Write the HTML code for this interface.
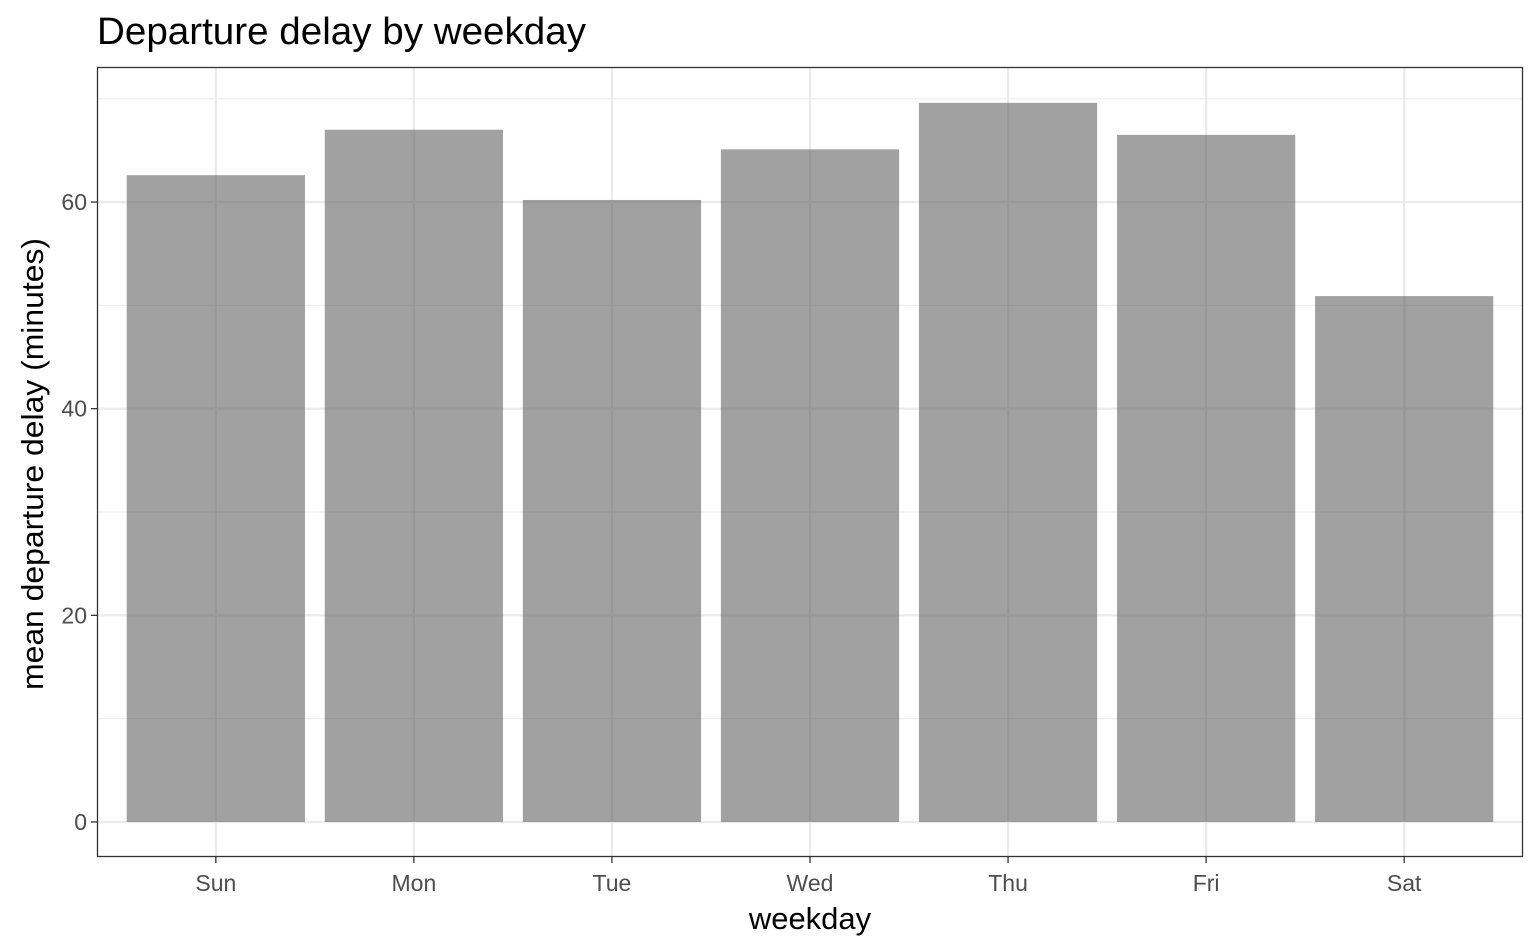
<!DOCTYPE html>
<html><head><meta charset="utf-8"><style>
body{margin:0;background:#fff;}
svg{display:block;font-family:"Liberation Sans",Arial,sans-serif;}
</style></head><body>
<svg id="chart" width="1540" height="951">
<text x="97" y="44" font-size="38" fill="#000" textLength="489" lengthAdjust="spacingAndGlyphs">Departure delay by weekday</text>
<g id="grid"></g><g id="bars"></g><g id="axes"></g>
<rect x="97.5" y="67.5" width="1425" height="789" fill="none" stroke="#333" stroke-width="1.3"/>
<text x="810" y="929" font-size="31" text-anchor="middle" fill="#000">weekday</text>
<text transform="translate(43,464) rotate(-90)" font-size="31" text-anchor="middle" fill="#000" textLength="452" lengthAdjust="spacingAndGlyphs">mean departure delay (minutes)</text>
</svg>
<script>
const categories=["Sun","Mon","Tue","Wed","Thu","Fri","Sat"];
const values=[62.6,67.0,60.2,65.1,69.6,66.5,50.9];
const yTicks=[0,20,40,60];
const yMinor=[10,30,50,70];
const NS="http://www.w3.org/2000/svg";
const L=97,R=1523,T=67,B=857,yMin=-3.39,yMax=73.07;
const step=(R-L)/(categories.length-1+1.2);
function xs(i){return L+step*(0.6+i);}
function ys(v){return B-(v-yMin)/(yMax-yMin)*(B-T);}
function mk(tag,attrs,parent){const e=document.createElementNS(NS,tag);for(const k in attrs)e.setAttribute(k,attrs[k]);parent.appendChild(e);return e;}
const grid=document.getElementById('grid'),bars=document.getElementById('bars'),axes=document.getElementById('axes');
yMinor.forEach(v=>{const l=mk('line',{x1:L,x2:R,y1:ys(v),y2:ys(v),stroke:'#ebebeb','stroke-width':1},grid);

});
yTicks.forEach(v=>{const l=mk('line',{x1:L,x2:R,y1:ys(v),y2:ys(v),stroke:'#ebebeb','stroke-width':2.2},grid);


const t=mk('line',{x1:L-6,x2:L,y1:ys(v),y2:ys(v),stroke:'#333','stroke-width':1.3},axes);


const tx=mk('text',{x:L-10,y:ys(v)+8,'font-size':23,'text-anchor':'end',fill:'#4d4d4d'},axes);tx.textContent=v;

});
categories.forEach((c,i)=>{const x=xs(i);
const g=mk('line',{x1:x,x2:x,y1:T,y2:B,stroke:'#ebebeb','stroke-width':2.2},grid);


const w=step*0.9;
const b=mk('rect',{x:x-w/2,y:ys(values[i]),width:w,height:ys(0)-ys(values[i]),fill:'#595959','fill-opacity':0.57},bars);


const t=mk('line',{x1:x,x2:x,y1:B,y2:B+6,stroke:'#333','stroke-width':1.3},axes);


const tx=mk('text',{x:x,y:B+34,'font-size':23,'text-anchor':'middle',fill:'#4d4d4d'},axes);tx.textContent=c;

});
</script>
</body></html>
